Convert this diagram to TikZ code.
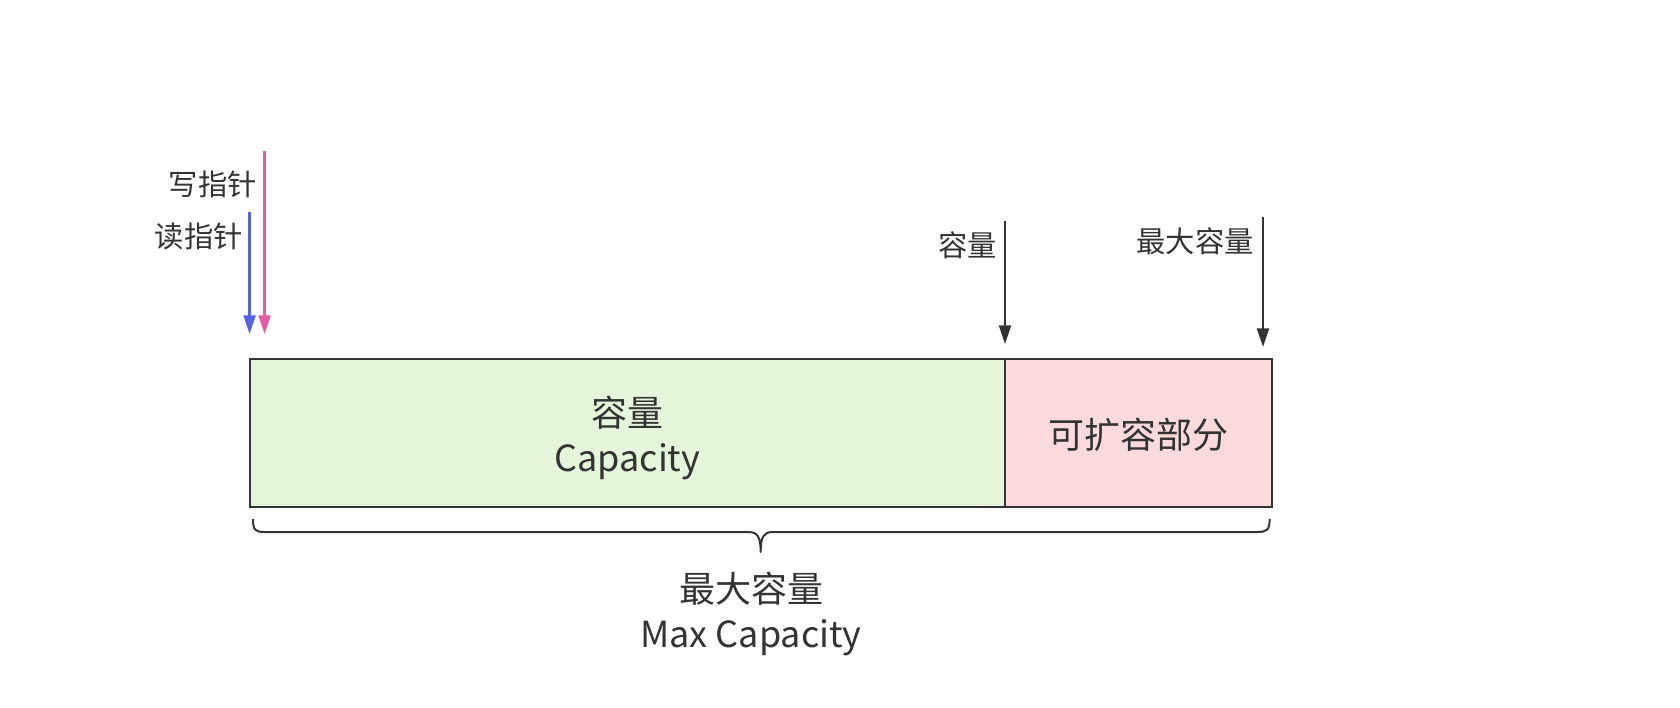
\documentclass[tikz,border=0pt]{standalone}
\usepackage{fontspec}
\setmainfont{Noto Sans CJK SC}
\usetikzlibrary{arrows.meta}
\definecolor{txt}{HTML}{333333}
\definecolor{greenfill}{HTML}{E4F5DA}
\definecolor{pinkfill}{HTML}{FADADD}
\definecolor{readc}{HTML}{5662E6}
\definecolor{writec}{HTML}{E65AA6}
\tikzset{
  cell/.style={draw=txt, line width=1.5pt, minimum height=111pt, inner sep=0pt},
  big/.style={inner sep=0pt, text=txt, font=\fontsize{27}{34}\selectfont, align=center},
  lbl/.style={inner sep=0pt, text=txt, font=\fontsize{22}{26}\selectfont, anchor=east},
  ptr/.style={line width=1.7pt, -{Triangle[length=14pt,width=9pt]}},
}
\begin{document}
\begin{tikzpicture}[x=0.75pt,y=-0.75pt]
\useasboundingbox (0,0) rectangle (1680,707);
\node[cell, fill=greenfill, minimum width=566.6pt] (cap) at (627.3,433) {};
\node[cell, fill=pinkfill, minimum width=200pt] (ext) at (1138.4,433) {};
\node[big] (capt) at (627.3,438) {容量\\Capacity};
\node[big] (extt) at (1138.4,435) {可扩容部分};
% pointers
\coordinate (rs) at (249.6,212);
\coordinate (re) at (249.6,334);
\coordinate (ws) at (264.6,151);
\coordinate (we) at (264.6,334);
\draw[ptr, readc] (rs) -- (re);
\draw[ptr, writec] (ws) -- (we);
\node[lbl] (wl) at (257,184) {写指针};
\node[lbl] (rl) at (243,236) {读指针};
% capacity markers
\coordinate (cs) at (1005,221);
\coordinate (ce) at (1005,344);
\coordinate (ms) at (1263,217);
\coordinate (me) at (1263,347);
\draw[ptr, txt] (cs) -- (ce);
\draw[ptr, txt] (ms) -- (me);
\node[lbl] (cl) at (997,245) {容量};
\node[lbl] (ml) at (1254,241) {最大容量};
% brace
\draw[txt, line width=1.5pt, line join=round]
  (253,519) .. controls (253,530) and (255,532) .. (265,532) -- (748,532)
  .. controls (757,532) and (760.7,536) .. (760.7,552)
  .. controls (760.7,536) and (764,532) .. (773,532) -- (1257,532)
  .. controls (1267,532) and (1269.6,530) .. (1269.6,519);
\node[big] (mx) at (751,614) {最大容量\\Max Capacity};
\end{tikzpicture}
\end{document}
